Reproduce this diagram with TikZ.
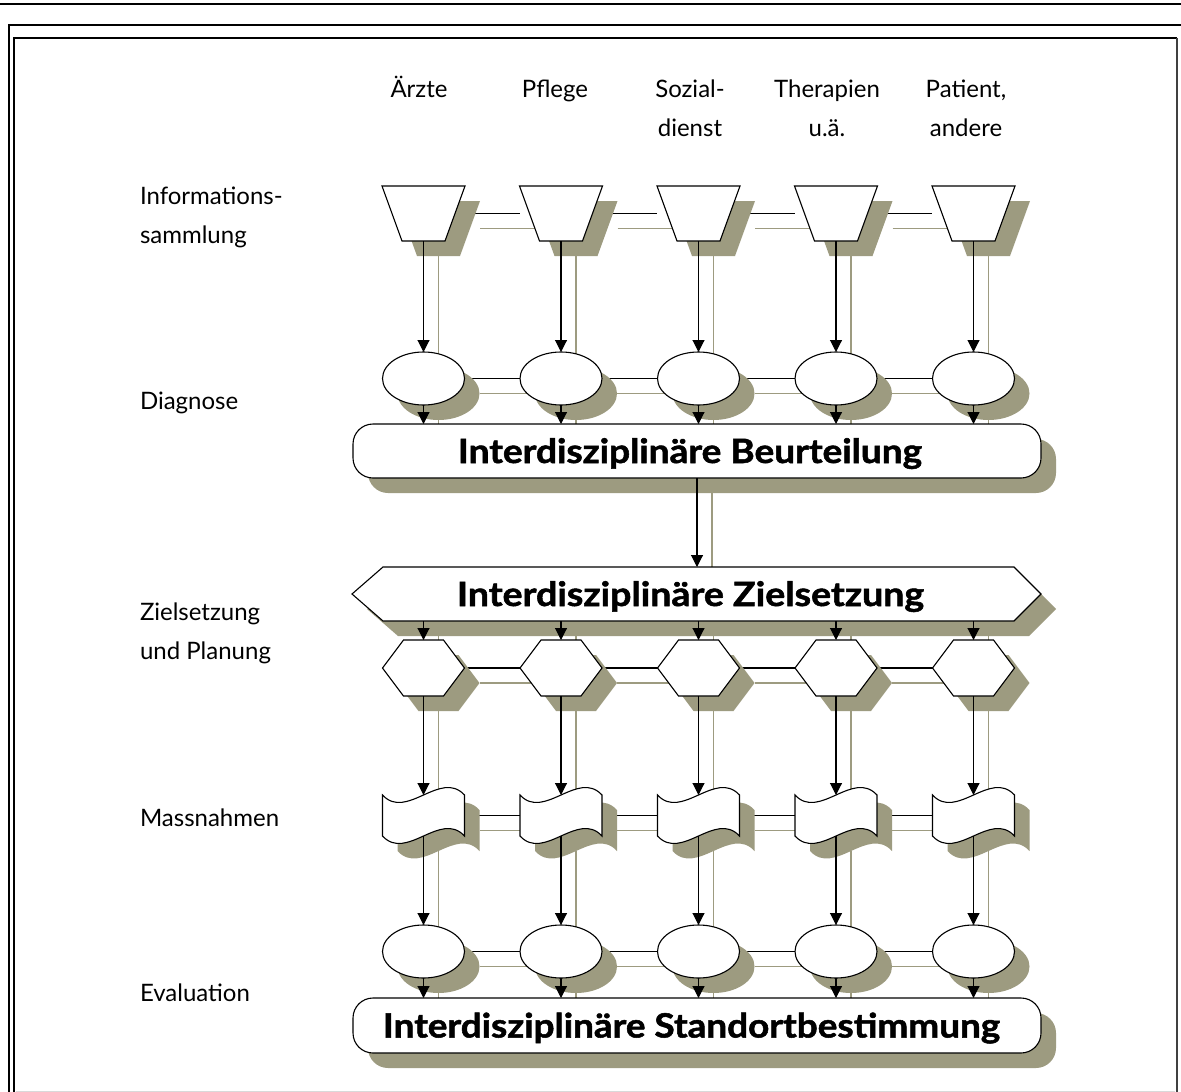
\documentclass[tikz,border=0pt]{standalone}
\usepackage{fontspec}
\setmainfont{Lato}
\newfontfamily\banfont{Lato}[BoldFeatures={FakeBold=1.5}]
\usepackage{graphicx}
\usetikzlibrary{arrows.meta}
\definecolor{shad}{RGB}{157,155,128}
\pgfdeclarelayer{back}
\pgfdeclarelayer{shadl}
\pgfdeclarelayer{shapel}
\pgfsetlayers{back,shadl,shapel,main}
\newcommand\bantext[2]{\resizebox{#1}{\height}{\fontsize{33.5}{36}\selectfont\banfont\bfseries #2}}
\newcommand\shapepath[1]{%
  \begin{pgfonlayer}{shadl}\fill[shad, transform canvas={shift={(15pt,-15pt)}}] #1;\end{pgfonlayer}%
  \begin{pgfonlayer}{shapel}\filldraw[shp] #1;\end{pgfonlayer}}
\begin{document}
\begin{tikzpicture}[x=1pt,y=-1pt,
  box/.style={draw=none, rectangle, inner sep=0pt, outer sep=0pt},
  trap/.style={box, minimum width=83pt, minimum height=55pt},
  ell/.style={box, minimum width=82pt, minimum height=53pt},
  hexa/.style={box, minimum width=82pt, minimum height=56pt},
  tapebox/.style={box, minimum width=82pt, minimum height=41pt},
  ban/.style={box, text height=30pt, text depth=6pt},
  shp/.style={draw=black, fill=white, line width=1.1pt},
  con/.style={line width=1.1pt},
  arr/.style={line width=1.1pt, -{Triangle[width=12pt,length=12pt]}},
  sl/.style={draw=shad, line width=1.2pt, transform canvas={shift={(15pt,-15pt)}}},
  lab/.style={font=\fontsize{24}{39}\selectfont, inner sep=0pt, outer sep=0pt}
]
\useasboundingbox (0,0) rectangle (1181,1092);
\begin{pgfonlayer}{back}
\fill[white] (0,0) rectangle (1181,1092);
\end{pgfonlayer}

% frame
\draw[line width=1.5pt] (0,4) -- (1181,4);
\draw[line width=1.5pt] (1181,25) -- (9,25) -- (9,1092);
\draw[line width=1.2pt] (14,1092) -- (14,38) -- (1177,38);
\draw[line width=2.2pt, black!75] (1177,38) -- (1177,1092);
\draw[line width=1pt, black!15] (16,1091.5) -- (1175,1091.5);

% shape anchors
\foreach \i/\x in {1/423.5,2/561,3/698.5,4/836,5/973.5} {
  \node[trap] (t\i) at (\x,213.5) {};
  \node[ell] (d\i) at (\x,378.5) {};
  \node[hexa] (h\i) at (\x,668) {};
  \node[tapebox] (m\i) at (\x,815.5) {};
  \node[ell] (e\i) at (\x,951.5) {};
}
\node[ban, minimum width=688pt, minimum height=54pt] (b1) at (697,451)
  {\bantext{464pt}{Interdisziplinäre Beurteilung}\hspace*{14pt}};
\node[ban, minimum width=689pt, minimum height=54pt] (b2) at (696.5,594)
  {\bantext{467pt}{Interdisziplinäre Zielsetzung}\hspace*{12pt}};
\node[ban, minimum width=688pt, minimum height=55pt] (b3) at (697,1025.5)
  {\bantext{617pt}{Interdisziplinäre Standortbestimmung}\hspace*{11pt}};

% shapes with shadows
\foreach \i in {1,...,5} {
  \shapepath{(t\i.north west) -- (t\i.north east) -- ([xshift=-20pt]t\i.south east)
     -- ([xshift=20pt]t\i.south west) -- cycle}
  \shapepath{(d\i) ellipse [x radius=41pt, y radius=26.5pt]}
  \shapepath{(h\i.west) -- ([xshift=21pt]h\i.north west) -- ([xshift=-21pt]h\i.north east)
     -- (h\i.east) -- ([xshift=-21pt]h\i.south east) -- ([xshift=21pt]h\i.south west) -- cycle}
  \shapepath{(m\i.north west) .. controls ([shift={(24pt,-26pt)}]m\i.north west)
     and ([shift={(-24pt,26pt)}]m\i.north east) .. (m\i.north east) -- (m\i.south east)
     .. controls ([shift={(-24pt,26pt)}]m\i.south east) and ([shift={(24pt,-26pt)}]m\i.south west)
     .. (m\i.south west) -- cycle}
  \shapepath{(e\i) ellipse [x radius=41pt, y radius=26.5pt]}
}
\shapepath{[rounded corners=20pt] (b1.north west) rectangle (b1.south east)}
\shapepath{(b2.west) -- ([xshift=31pt]b2.north west) -- ([xshift=-27pt]b2.north east)
   -- (b2.east) -- ([xshift=-27pt]b2.south east) -- ([xshift=31pt]b2.south west) -- cycle}
\shapepath{[rounded corners=20pt] (b3.north west) rectangle (b3.south east)}

% connectors behind shadows
\begin{pgfonlayer}{back}
\foreach \a/\b in {1/2,2/3,3/4,4/5} {
  \draw[con] (t\a) -- (t\b);
  \draw[con] (d\a) -- (d\b);
  \draw[con] (h\a) -- (h\b);
  \draw[con] (m\a) -- (m\b);
  \draw[con] (e\a) -- (e\b);
  \draw[sl] (t\a) -- (t\b);
  \draw[sl] (d\a) -- (d\b);
  \draw[sl] (h\a) -- (h\b);
  \draw[sl] (m\a) -- (m\b);
  \draw[sl] (e\a) -- (e\b);
}
\foreach \i in {1,...,5} {
  \draw[sl] (t\i) -- (d\i);
  \draw[sl] (d\i.south) -- (d\i.south |- b1.north);
  \draw[sl] (h\i.north |- b2.south) -- (h\i.north);
  \draw[sl] (h\i) -- (m\i);
  \draw[sl] (m\i) -- (e\i);
  \draw[sl] (e\i.south) -- (e\i.south |- b3.north);
}
\draw[sl] (b1.south) -- (b1.south |- b2.north);
\end{pgfonlayer}

% vertical arrows
\foreach \i in {1,...,5} {
  \draw[arr] (t\i.south) -- (d\i.north);
  \draw[arr] (d\i.south) -- (d\i.south |- b1.north);
  \draw[arr] (h\i.north |- b2.south) -- (h\i.north);
  \draw[arr] (h\i.south) -- (m\i.north);
  \draw[arr] (m\i.south) -- (e\i.north);
  \draw[arr] (e\i.south) -- (e\i.south |- b3.north);
}
\draw[arr] (b1.south) -- (b1.south |- b2.north);

% column headers
\node[lab, anchor=base] (hA) at (419,97) {Ärzte};
\node[lab, anchor=base] (hP) at (555,97) {Pflege};
\node[lab, align=center] (hS) at (690,107.8) {Sozial-\\dienst};
\node[lab, align=center] (hT) at (827,107.8) {Therapien\\u.ä.};
\node[lab, align=center] (hPa) at (966,107.8) {Patient,\\andere};

% row labels
\node[lab, anchor=west, align=left] (lI) at (140,217) {Informations-\\sammlung};
\node[lab, anchor=base west] (lD) at (140,409) {Diagnose};
\node[lab, anchor=west, align=left] (lZ) at (140,633) {Zielsetzung\\und Planung};
\node[lab, anchor=base west] (lM) at (140,826) {Massnahmen};
\node[lab, anchor=base west] (lE) at (140,1001) {Evaluation};
\end{tikzpicture}
\end{document}
